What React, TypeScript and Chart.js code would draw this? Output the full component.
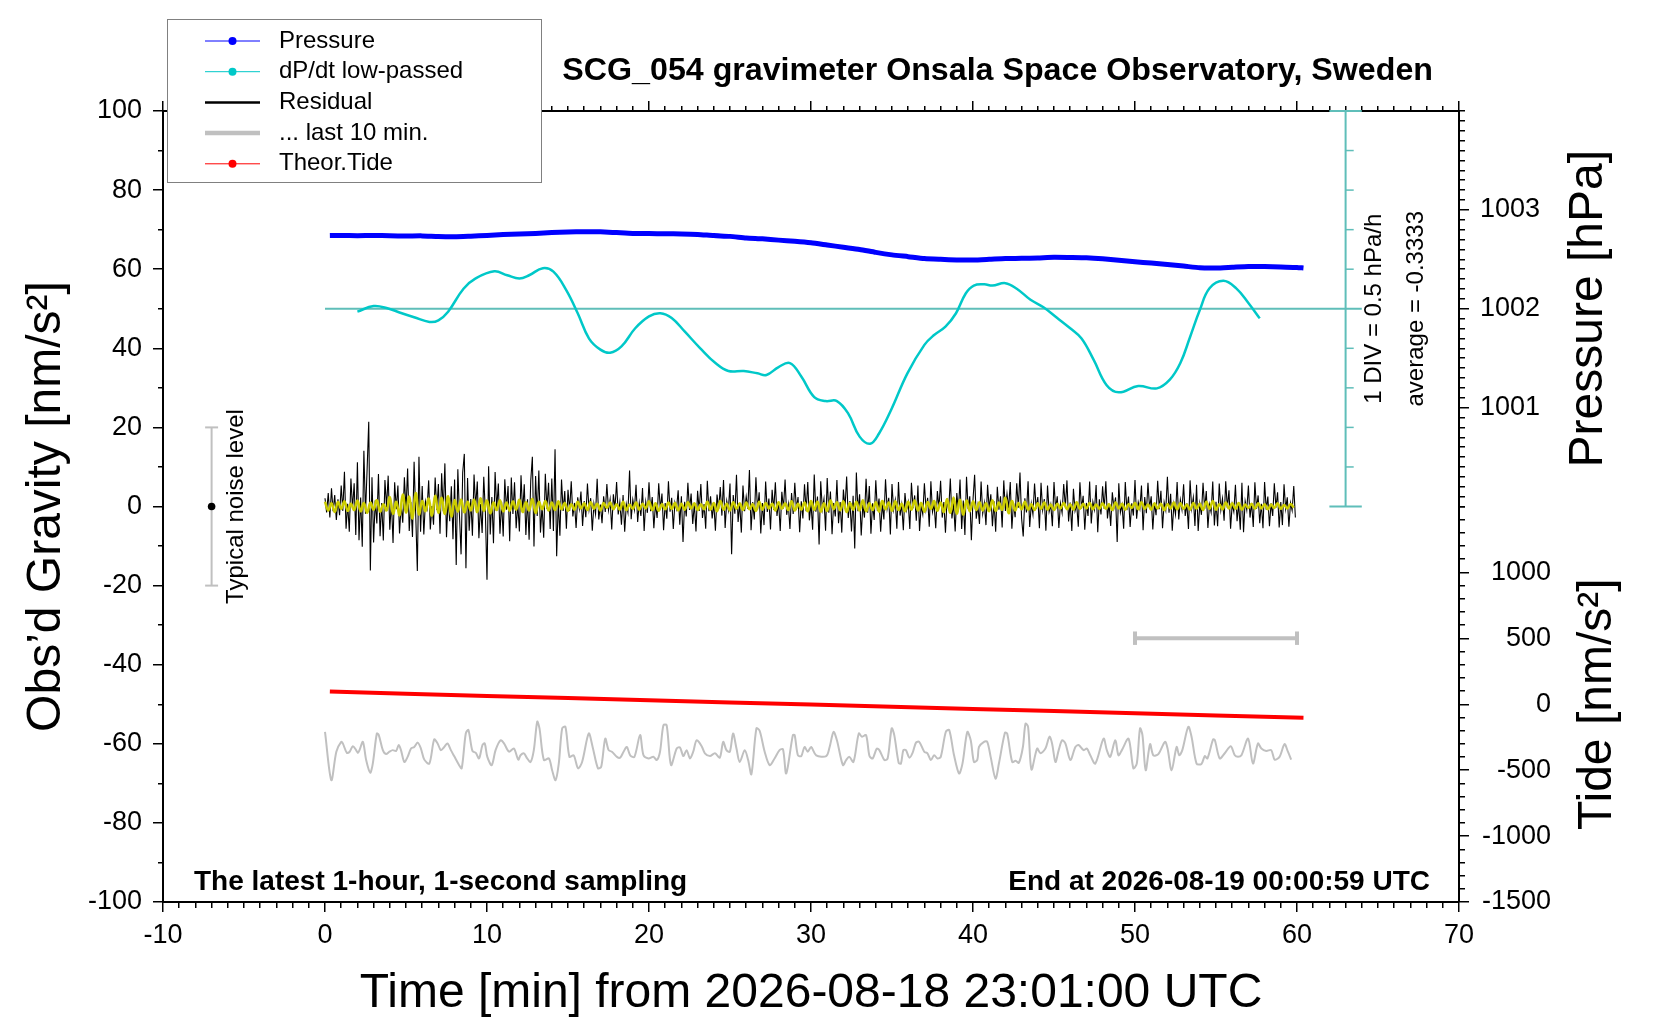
import React, { useEffect, useRef } from 'react';
import { Chart, registerables } from 'chart.js';

Chart.register(...registerables);

const FONT = '"Liberation Sans", Arial, Helvetica, sans-serif';
Chart.defaults.font.family = FONT;
Chart.defaults.color = '#000';

const TITLE = 'SCG_054 gravimeter Onsala Space Observatory, Sweden';
const NOTE_LEFT = 'The latest 1-hour, 1-second sampling';
const NOTE_RIGHT = 'End at 2026-08-19 00:00:59 UTC';
const X_TITLE = 'Time [min] from 2026-08-18 23:01:00 UTC';
const GRAV_TITLE = 'Obs\u2019d Gravity [nm/s\u00b2]';
const PRESSURE_TITLE = 'Pressure [hPa]';
const TIDE_TITLE = 'Tide [nm/s\u00b2]';

// tick labels (also the long / major ticks)
const xTickLabels = [-10, 0, 10, 20, 30, 40, 50, 60, 70];
const gravTickLabels = [-100, -80, -60, -40, -20, 0, 20, 40, 60, 80, 100];
const pressureTickLabels = [1001, 1002, 1003];
const tideTickLabels = [-1500, -1000, -500, 0, 500, 1000];

// dP/dt scale: 1 DIV = 0.5 hPa/h, centred on the average
const DP_AVERAGE = -0.3333;
const DP_DIV = 0.5;
const DP_SCALE_AT = 63; // minutes

// typical noise level bar and last-10-min window marker
const NOISE_AT = -7;
const NOISE_LEVEL = 20;
const WINDOW_FROM = 50;
const WINDOW_TO = 60;
const WINDOW_LEVEL = -33.3;

// residual gravity, 1 value every 0.1 min (6 s) [nm/s2]
const RES_STEP = 0.1;
const residual = [
  2.1, -1.5, 3.4, -2.8, 4.6, -1.2, 2.9, -3.4, 1.8, -2.2,
  5.3, -1.1, 8.8, -5.6, 0.7, -6.4, 7.1, -0.5, 5.9, -7.2,
  11.2, -8.5, 2.3, -10.2, 14.1, -1.8, 9.5, 21.4, -16.2, 7.4,
  -9.1, 1.6, -4.3, 8.2, -7.5, 0.9, -8.6, 6.7, -0.2, 7.8,
  -5.9, 1.4, -9.2, 6.1, -0.7, 5.3, -6.8, 0.5, -4.1, 7.4,
  -0.8, 9.6, -6.2, 1.1, -7.7, 11.3, -2.1, -16.3, 12.6, -6.4,
  5.2, -7.1, 1.3, -0.5, 6.6, -5.8, 0.1, -4.6, 7.3, -0.9,
  5.7, -6.9, 8.4, -1.2, 10.9, -7.8, 2.2, -3.7, 5.1, -8.3,
  6.8, -14.8, 9.4, -2.3, -12.1, 8.6, 13.3, -15.6, 7.2, -6.1,
  1.9, -7.4, 8.1, -0.2, 6.3, -8.0, 0.6, -6.7, 7.5, -1.4,
  -18.5, 10.2, -7.1, 2.4, -9.3, 8.7, -0.6, 5.8, -6.9, 1.2,
  -7.6, 6.9, -0.8, 5.2, -8.8, 7.3, -1.9, 6.1, -5.5, 0.7,
  -6.3, 7.9, -1.5, 5.6, -7.2, 1.8, -8.4, 6.5, 12.6, -10.1,
  7.7, -2.4, 9.1, -6.6, 0.2, -7.9, 8.3, -0.6, 6.0, -5.7,
  7.1, -6.2, 14.5, -12.6, 1.3, -7.4, 6.8, -1.1, 3.9, -5.6,
  4.2, -1.1, 6.4, -2.5, 0.9, -5.4, 2.3, -0.6, 3.8, -4.9,
  1.4, -2.7, 5.8, -0.8, 2.1, -6.1, 0.7, -1.9, 7.0, -3.3,
  0.5, -4.2, 2.6, -1.4, 5.7, -0.9, 1.8, -5.8, 3.1, -0.4,
  6.2, -2.0, 1.1, -4.6, 2.9, -6.4, 0.6, -1.5, 9.1, -3.2,
  1.7, -0.8, 5.5, -3.9, 0.9, -2.4, 4.7, -6.2, 1.2, -1.6,
  6.1, -1.2, 2.4, -5.5, 0.8, -2.9, 5.9, -0.7, 3.3, -6.0,
  0.9, -3.1, 6.4, -1.3, 2.2, -5.7, 1.0, -0.6, 4.1, -4.6,
  2.6, -9.0, 1.2, -2.5, 6.0, -0.9, 3.3, -4.4, 0.7, -6.3,
  4.0, -1.1, 5.7, -2.9, 0.6, -5.6, 6.5, -1.2, 2.6, -3.0,
  0.8, -6.1, 3.0, -0.7, 4.9, -2.3, 6.7, -5.4, 1.4, -0.9,
  5.8, -12.1, 2.9, -1.8, 8.0, -3.9, 0.8, -6.6, 5.3, -1.2,
  2.5, -0.6, 9.2, -6.0, 1.1, -3.3, 7.4, -0.8, 3.6, -6.8,
  0.9, -4.7, 6.3, -1.4, 2.0, -5.8, 4.2, -0.9, 6.1, -2.4,
  1.2, -6.2, 3.7, -0.5, 6.8, -2.1, 0.6, -5.7, 3.4, -1.9,
  6.0, -0.8, 2.4, -6.5, 1.3, -3.0, 5.6, -1.2, 6.2, -3.5,
  0.8, -5.9, 8.1, -1.3, 2.5, -9.6, 6.4, -0.7, 1.9, -6.1,
  7.2, -1.6, 3.8, -7.0, 0.9, -2.5, 6.7, -4.2, 1.1, -6.6,
  4.3, -0.5, 7.6, -2.9, 1.4, -6.3, 2.7, -10.6, 8.6, -1.2,
  3.1, -7.3, 0.5, -2.8, 7.0, -1.6, 5.2, -6.9, 0.8, -3.4,
  6.6, -1.1, 2.0, -6.4, 0.7, -3.3, 6.9, -0.5, 2.2, -7.1,
  5.7, -0.8, 1.6, -5.6, 6.2, -2.3, 0.5, -6.0, 3.4, -0.9,
  1.1, -5.7, 6.0, -0.4, 2.8, -3.6, 5.3, -6.2, 0.2, -2.0,
  5.9, -0.7, 2.2, -5.1, 6.4, -1.4, 0.6, -5.5, 3.9, -0.3,
  6.5, -2.8, 1.1, -6.6, 2.0, -0.9, 7.1, -3.0, 0.8, -6.3,
  3.4, -1.2, 6.8, -5.7, 1.5, -7.2, 7.5, -0.6, 2.6, -8.5,
  1.7, 8.0, -3.1, 0.2, -4.4, 6.3, -1.8, 0.9, -4.7, 5.5,
  -0.6, 3.1, -5.0, 1.3, -6.4, 5.0, -0.8, 2.6, -5.3, 6.6,
  -1.1, 3.2, -0.5, 6.2, -5.6, 1.0, -2.7, 5.9, -0.3, 8.6,
  -3.0, -7.6, 2.1, -1.5, 6.4, -5.2, 0.7, -2.0, 5.8, -0.6,
  2.4, -5.5, 6.0, -0.9, 1.9, -6.1, 5.3, -1.3, 0.5, -5.0,
  6.2, -0.7, 2.6, -5.4, 0.8, -1.6, 5.7, -0.2, 6.6, -3.8,
  1.0, -6.2, 4.5, -1.1, 0.6, -5.1, 6.1, -0.5, 2.7, -5.9,
  0.9, -2.4, 6.3, -4.3, 1.2, -0.8, 5.4, -6.5, 1.8, -2.0,
  5.1, -0.6, 6.4, -3.0, 0.7, -4.9, 3.6, -0.3, 2.3, -9.0,
  5.9, -1.5, 0.4, -5.6, 6.2, -0.9, 2.5, -5.2, 0.8, -2.3,
  6.7, -3.1, 1.1, -0.6, 5.3, -6.0, 2.4, -1.7, 6.0, -0.4,
  2.6, -5.8, 0.9, -2.2, 6.5, -0.7, 4.0, -5.5, 1.1, -0.9,
  7.5, -1.6, 3.2, -6.1, 0.6, -2.0, 6.2, -3.3, 1.7, -0.8,
  5.6, -2.4, 0.8, -5.7, 6.6, -0.5, 2.3, -4.9, 5.5, -6.2,
  0.7, -2.1, 6.0, -0.6, 3.9, -5.4, 0.5, -1.5, 6.3, -4.8,
  1.2, -5.0, 5.8, -0.9, 2.0, -3.6, 6.4, -0.4, 4.1, -5.6,
  0.6, -1.3, 5.5, -3.7, 0.7, -5.9, 6.0, -6.5, 1.4, -0.9,
  5.3, -2.8, 0.9, -5.2, 6.1, -0.6, 2.8, -4.2, 0.7, -5.5,
  6.2, -0.8, 2.5, -5.0, 0.8, -2.4, 5.9, -0.3, 3.6, -5.3,
  1.1, -4.7, 5.6, -0.6, 2.3, -5.1, 0.9, -1.0, 5.2, -2.8,
];

// low-passed residual (yellow), 1 value every 0.2 min
const SMOOTH_STEP = 0.2;
const smoothed = [
  1.2, -1.0, 0.8, -1.4, 1.1, -0.6, 1.3, -1.1, 0.7, -0.9,
  1.5, -1.2, 0.9, -1.6, 1.0, -0.8, 1.6, -1.3, 0.6, -1.0,
  2.4, -1.8, 1.2, -2.2, 3.0, -1.5, 2.5, -3.0, 3.4, -2.0,
  1.4, -1.2, 2.0, -2.3, 2.7, -1.6, 2.2, -1.9, 2.6, -2.5,
  1.6, -1.3, 1.8, -1.5, 1.2, -1.0, 1.7, -1.4, 2.1, -1.1,
  1.5, -1.7, 1.0, -0.9, 1.6, -1.2, 1.0, -1.1, 1.3, -0.8,
  1.7, -1.4, 1.1, -1.0, 1.9, -1.6, 1.2, -0.7, 1.4, -1.0,
  1.0, -0.9, 1.3, -0.7, 0.9, -1.1, 0.6, -0.8, 1.2, -0.5,
  0.8, -0.9, 1.1, -0.6, 0.7, -1.0, 0.9, -0.4, 1.0, -0.7,
  0.6, -0.8, 1.2, -0.9, 0.5, -0.6, 1.0, -0.8, 0.7, -0.5,
  1.3, -0.9, 0.8, -1.1, 0.6, -0.7, 1.0, -0.6, 0.9, -1.0,
  0.7, -0.8, 1.1, -0.5, 0.8, -0.9, 0.6, -0.7, 1.2, -0.8,
  0.9, -1.2, 1.4, -0.8, 0.7, -1.0, 1.1, -0.6, 0.8, -0.9,
  1.0, -0.7, 0.6, -1.1, 1.2, -0.8, 0.9, -0.5, 0.7, -1.0,
  1.1, -0.6, 0.8, -0.9, 1.3, -1.0, 0.7, -0.8, 1.0, -1.2,
  1.4, -0.9, 1.2, -1.3, 0.8, -1.1, 1.5, -0.7, 1.1, -1.0,
  1.3, -1.4, 0.9, -0.8, 1.2, -1.0, 1.6, -1.2, 0.8, -0.9,
  1.1, -1.3, 1.4, -0.7, 1.0, -1.1, 1.3, -0.9, 0.7, -1.2,
  1.2, -0.8, 1.5, -1.0, 0.9, -1.3, 1.1, -0.6, 1.4, -1.1,
  1.0, -1.4, 1.9, -1.6, 2.3, -1.8, 1.7, -2.1, 1.5, -1.2,
  1.3, -0.9, 1.1, -1.0, 0.8, -1.2, 1.6, -1.1, 1.0, -0.8,
  2.2, -1.7, 1.4, -1.0, 0.9, -0.7, 1.2, -0.8, 0.6, -0.9,
  0.8, -0.6, 1.0, -0.8, 0.5, -0.9, 0.7, -0.5, 0.9, -0.7,
  0.6, -0.8, 1.1, -0.6, 0.7, -0.5, 0.9, -0.7, 0.5, -0.6,
  0.8, -0.6, 0.6, -0.9, 1.0, -0.5, 0.7, -0.8, 0.6, -0.4,
  0.9, -0.7, 1.1, -0.6, 0.5, -0.8, 0.8, -0.5, 0.7, -0.9,
  0.6, -0.5, 1.0, -0.7, 0.8, -0.6, 0.5, -0.8, 0.9, -0.6,
  0.7, -0.9, 1.2, -0.6, 1.4, -0.8, 0.6, -0.7, 1.0, -0.5,
  0.8, -0.6, 0.9, -0.8, 0.5, -0.4, 0.7, -0.6, 0.8, -0.5,
  0.6, -0.7, 0.5, -0.4, 0.8, -0.6, 0.4, -0.5, 0.6, -0.3,
];

// "... last 10 min." residual stretched over the hour, [min, nm/s2]
const lastTen = [
  [0.0, -57.0], [0.39, -69.2], [0.7, -62.0], [1.0, -59.5], [1.1, -59.9], [1.35, -62.3], [1.52, -62.0],
  [1.72, -60.6], [1.92, -61.6], [2.03, -62.3], [2.13, -61.6], [2.34, -59.5], [2.54, -64.1], [2.79, -67.3],
  [2.95, -65.0], [3.2, -57.4], [3.32, -57.8], [3.57, -61.6], [3.77, -62.6], [3.98, -62.0], [4.18, -61.6],
  [4.39, -61.8], [4.55, -60.3], [4.69, -61.6], [4.9, -64.6], [5.1, -63.3], [5.31, -61.2], [5.51, -60.8],
  [5.72, -59.7], [5.92, -61.2], [6.13, -64.0], [6.44, -65.0], [6.74, -58.9], [6.95, -59.9], [7.15, -61.6],
  [7.36, -60.8], [7.56, -59.9], [7.77, -61.6], [7.97, -63.1], [8.28, -65.4], [8.44, -66.2], [8.69, -57.4],
  [8.85, -56.5], [9.1, -61.8], [9.31, -62.3], [9.51, -63.7], [9.72, -60.3], [9.86, -59.9], [10.02, -63.3],
  [10.29, -65.4], [10.53, -61.6], [10.84, -59.1], [11.05, -59.9], [11.36, -62.0], [11.66, -61.2],
  [11.93, -64.0], [12.07, -62.9], [12.28, -62.4], [12.48, -63.7], [12.69, -64.6], [12.89, -61.6],
  [13.1, -54.4], [13.24, -56.1], [13.51, -64.1], [13.82, -63.7], [14.02, -66.7], [14.23, -69.2],
  [14.43, -65.0], [14.64, -56.1], [14.84, -55.7], [15.09, -63.3], [15.35, -62.9], [15.62, -66.2],
  [15.87, -64.6], [16.28, -57.4], [16.52, -60.8], [16.85, -66.2], [17.05, -65.8], [17.3, -58.7],
  [17.51, -61.6], [17.71, -62.0], [18.02, -63.3], [18.22, -63.5], [18.43, -62.0], [18.63, -60.8],
  [18.84, -62.9], [19.1, -63.3], [19.45, -57.8], [19.66, -62.9], [19.97, -63.7], [20.27, -63.3],
  [20.48, -64.1], [20.68, -62.0], [20.89, -55.3], [21.09, -55.3], [21.36, -65.4], [21.71, -61.2],
  [21.91, -60.9], [22.12, -63.1], [22.32, -61.6], [22.53, -63.7], [22.73, -62.0], [22.94, -59.1],
  [23.25, -60.6], [23.45, -62.4], [23.76, -63.1], [24.07, -62.4], [24.37, -63.5], [24.58, -59.5],
  [24.78, -61.6], [24.99, -62.0], [25.19, -57.4], [25.4, -61.2], [25.6, -64.6], [25.91, -61.6],
  [26.12, -64.1], [26.32, -67.7], [26.63, -56.1], [26.83, -56.7], [27.14, -62.0], [27.45, -65.4],
  [27.75, -63.7], [28.06, -61.6], [28.27, -61.4], [28.47, -67.5], [28.88, -57.8], [28.99, -57.8],
  [29.19, -62.9], [29.4, -63.1], [29.6, -60.8], [29.8, -62.0], [30.01, -60.8], [30.32, -62.9],
  [30.94, -63.1], [31.15, -60.8], [31.39, -57.0], [31.6, -59.1], [31.97, -65.4], [32.17, -64.1],
  [32.37, -63.3], [32.62, -64.6], [32.95, -57.4], [33.15, -58.2], [33.4, -57.8], [33.61, -63.1],
  [33.81, -63.7], [34.06, -61.2], [34.22, -61.6], [34.53, -64.1], [34.73, -63.7], [34.98, -56.1],
  [35.14, -57.8], [35.41, -64.8], [35.55, -65.0], [35.7, -61.6], [35.86, -61.6], [36.07, -63.5],
  [36.27, -62.3], [36.48, -59.7], [36.68, -59.5], [36.99, -62.0], [37.19, -62.4], [37.4, -64.1],
  [37.6, -62.9], [37.81, -63.7], [38.01, -63.3], [38.32, -57.0], [38.53, -56.5], [38.83, -62.9],
  [39.14, -67.5], [39.35, -65.0], [39.65, -57.0], [39.86, -59.1], [40.06, -64.6], [40.27, -64.0],
  [40.37, -60.8], [40.68, -59.5], [40.88, -59.5], [41.09, -63.3], [41.39, -68.8], [41.6, -65.0],
  [41.97, -57.2], [42.11, -57.4], [42.42, -64.6], [42.63, -64.3], [42.83, -64.8], [43.08, -60.8],
  [43.24, -54.9], [43.4, -55.7], [43.61, -66.5], [43.96, -61.2], [44.16, -62.4], [44.47, -61.2],
  [44.72, -58.2], [44.88, -59.9], [45.09, -64.6], [45.29, -61.6], [45.5, -59.1], [45.7, -59.9],
  [46.01, -64.1], [46.32, -60.8], [46.52, -60.3], [46.83, -61.6], [47.03, -61.2], [47.24, -62.9],
  [47.55, -65.0], [48.06, -58.7], [48.26, -61.6], [48.47, -63.3], [48.78, -59.1], [48.98, -62.9],
  [49.19, -61.6], [49.6, -58.7], [49.9, -66.2], [50.11, -65.0], [50.31, -56.1], [50.46, -57.8],
  [50.66, -66.7], [50.93, -60.1], [51.13, -62.9], [51.44, -62.6], [51.85, -59.5], [52.01, -61.2],
  [52.26, -66.7], [52.57, -60.8], [52.73, -62.9], [52.92, -61.6], [53.29, -55.7], [53.49, -58.2],
  [53.8, -65.0], [54.1, -65.1], [54.31, -63.1], [54.47, -63.7], [54.82, -58.9], [54.93, -59.1],
  [55.23, -63.7], [55.54, -62.4], [55.91, -60.6], [56.16, -62.9], [56.36, -63.3], [56.57, -62.9],
  [56.98, -58.7], [57.28, -65.0], [57.59, -59.9], [57.8, -61.2], [58.1, -61.8], [58.41, -61.6],
  [58.62, -64.0], [58.92, -63.3], [59.23, -60.1], [59.44, -62.0], [59.64, -64.0],
];

// air pressure [min, hPa]
const pressure = [
  [0.3, 1002.740], [1, 1002.742], [2, 1002.739], [3, 1002.741], [4, 1002.738], [5, 1002.736],
  [6, 1002.737], [7, 1002.730], [8, 1002.728], [9, 1002.734], [10, 1002.741], [11, 1002.750],
  [12, 1002.756], [13, 1002.762], [14, 1002.771], [15, 1002.777], [16, 1002.779], [17, 1002.778],
  [18, 1002.770], [19, 1002.762], [20, 1002.760], [21, 1002.758], [22, 1002.757], [23, 1002.752],
  [24, 1002.740], [25, 1002.732], [26, 1002.716], [27, 1002.707], [28, 1002.694], [29, 1002.683],
  [30, 1002.668], [31, 1002.645], [32, 1002.622], [33, 1002.600], [34, 1002.570], [35, 1002.545],
  [36, 1002.527], [37, 1002.508], [38, 1002.500], [39, 1002.494], [40, 1002.493], [41, 1002.500],
  [42, 1002.508], [43, 1002.510], [44, 1002.514], [45, 1002.520], [46, 1002.518], [47, 1002.515],
  [48, 1002.505], [49, 1002.490], [50, 1002.475], [51, 1002.462], [52, 1002.448], [53, 1002.432],
  [54, 1002.414], [55, 1002.412], [56, 1002.420], [57, 1002.428], [58, 1002.427], [59, 1002.422],
  [60, 1002.418], [60.4, 1002.412],
];

// dP/dt low-passed [min, hPa/h]
const dpdt = [
  [2.0, -0.37], [3.0, -0.30], [3.9, -0.33], [4.6, -0.38], [5.5, -0.44], [6.45, -0.50], [7.0, -0.48],
  [7.6, -0.37], [8.55, -0.08], [9.3, 0.05], [10.45, 0.14], [11.25, 0.09], [12.0, 0.05], [12.6, 0.09],
  [13.45, 0.18], [14.1, 0.135], [14.9, -0.10], [15.6, -0.39], [16.3, -0.71], [17.0, -0.85], [17.6, -0.89],
  [18.3, -0.81], [19.15, -0.58], [20.0, -0.43], [20.7, -0.39], [21.4, -0.45], [22.2, -0.62], [23.15, -0.83],
  [24.1, -1.02], [24.9, -1.12], [25.85, -1.12], [26.7, -1.15], [27.25, -1.17], [28.0, -1.07], [28.7, -1.02],
  [29.4, -1.19], [30.2, -1.45], [30.9, -1.50], [31.6, -1.50], [32.3, -1.66], [33.0, -1.95], [33.65, -2.04],
  [34.2, -1.91], [34.95, -1.61], [35.95, -1.15], [37.0, -0.79], [37.6, -0.665], [38.3, -0.56], [38.95, -0.39],
  [39.55, -0.14], [40.05, -0.04], [40.7, -0.025], [41.2, -0.04], [42.0, -0.01], [42.7, -0.08], [43.55, -0.22],
  [44.35, -0.315], [45.2, -0.45], [46.0, -0.58], [46.7, -0.71], [47.45, -0.98], [48.25, -1.30], [49.0, -1.39],
  [50.2, -1.31], [51.35, -1.34], [52.15, -1.23], [52.8, -1.02], [53.4, -0.69], [54.0, -0.35], [54.6, -0.075],
  [55.45, 0.02], [56.25, -0.075], [57.0, -0.26], [57.7, -0.455],
];

// theoretical tide [min, nm/s2]
const tide = [
  [0.3, 96], [5, 80], [10, 63.5], [15, 47], [20, 30.5], [25, 14], [30, -2.5],
  [35, -19], [40, -35.5], [45, -52], [50, -68.5], [55, -85], [60.4, -102],
];

const BLUE = '#0000ff';
const CYAN = 'rgb(0,200,200)';
const TEAL = 'rgb(95,190,185)';
const RED = '#ff0000';
const GRAY = '#c0c0c0';
const YELLOW = '#cccc00';

const MAJOR_TICK = 10;
const MINOR_TICK = 5;

const near = (list: number[], v: number) => list.some((l) => Math.abs(l - v) < 1e-6);
const label = (list: number[]) => (v: any) => (near(list, Number(v)) ? String(Math.round(Number(v))) : '');
// short ticks for the minor marks; dash starts at the outer end for left/top axes
const tickDash = (major: number[], outerFirst: boolean) => (c: any) => {
  const v = c.tick ? c.tick.value : NaN;
  if (near(major, v)) return [];
  return outerFirst ? [0, MAJOR_TICK - MINOR_TICK, MINOR_TICK, 60] : [MINOR_TICK, 60];
};
const axisGrid = (major: number[], outerFirst: boolean) => ({
  drawOnChartArea: false,
  drawTicks: true,
  tickLength: MAJOR_TICK,
  tickColor: '#000',
  tickWidth: 1.5,
  lineWidth: 1.5,
  tickBorderDash: tickDash(major, outerFirst),
});
const border = { display: true, color: '#000', width: 2 };
const tickFont = { size: 27 };

const legendRows = [
  { text: 'Pressure', color: BLUE, width: 1, dot: true },
  { text: 'dP/dt low-passed', color: CYAN, width: 1, dot: true },
  { text: 'Residual', color: '#000', width: 2.5, dot: false },
  { text: '... last 10 min.', color: GRAY, width: 4.5, dot: false },
  { text: 'Theor.Tide', color: RED, width: 1, dot: true },
];

const seg = (ctx: CanvasRenderingContext2D, x1: number, y1: number, x2: number, y2: number) => {
  ctx.beginPath();
  ctx.moveTo(x1, y1);
  ctx.lineTo(x2, y2);
  ctx.stroke();
};

const vText = (ctx: CanvasRenderingContext2D, text: string, x: number, y: number, font: string) => {
  ctx.save();
  ctx.translate(x, y);
  ctx.rotate(-Math.PI / 2);
  ctx.font = font;
  ctx.textAlign = 'center';
  ctx.textBaseline = 'middle';
  ctx.fillStyle = '#000';
  ctx.fillText(text, 0, 0);
  ctx.restore();
};

const decorations = {
  id: 'decorations',
  beforeDatasetsDraw(chart: any) {
    const { ctx, scales } = chart;
    const x = scales.x;
    const dp = scales.yDp;
    const px = (v: number) => x.getPixelForValue(v);
    ctx.save();
    ctx.strokeStyle = TEAL;
    ctx.lineWidth = 2;
    const yAvg = dp.getPixelForValue(DP_AVERAGE);
    seg(ctx, px(0), yAvg, px(DP_SCALE_AT + 1), yAvg);
    const top = dp.getPixelForValue(DP_AVERAGE + 5 * DP_DIV);
    const bot = dp.getPixelForValue(DP_AVERAGE - 5 * DP_DIV);
    seg(ctx, px(DP_SCALE_AT), top, px(DP_SCALE_AT), bot);
    seg(ctx, px(DP_SCALE_AT - 1), top, px(DP_SCALE_AT + 1), top);
    seg(ctx, px(DP_SCALE_AT - 1), bot, px(DP_SCALE_AT + 1), bot);
    ctx.lineWidth = 1.5;
    for (let k = -4; k <= 4; k++) {
      if (k === 0) continue;
      const yy = dp.getPixelForValue(DP_AVERAGE + k * DP_DIV);
      seg(ctx, px(DP_SCALE_AT), yy, px(DP_SCALE_AT + 0.5), yy);
    }
    ctx.restore();
  },
  afterDatasetsDraw(chart: any) {
    const { ctx, scales } = chart;
    const x = scales.x;
    const g = scales.y;
    const px = (v: number) => x.getPixelForValue(v);
    ctx.save();
    // typical noise level
    ctx.strokeStyle = GRAY;
    ctx.lineWidth = 2;
    const nx = px(NOISE_AT);
    const nTop = g.getPixelForValue(NOISE_LEVEL);
    const nBot = g.getPixelForValue(-NOISE_LEVEL);
    seg(ctx, nx, nTop, nx, nBot);
    seg(ctx, px(NOISE_AT - 0.4), nTop, px(NOISE_AT + 0.4), nTop);
    seg(ctx, px(NOISE_AT - 0.4), nBot, px(NOISE_AT + 0.4), nBot);
    ctx.fillStyle = '#000';
    ctx.beginPath();
    ctx.arc(nx, g.getPixelForValue(0), 3.8, 0, Math.PI * 2);
    ctx.fill();
    // last 10 min window
    ctx.lineWidth = 4;
    const wy = g.getPixelForValue(WINDOW_LEVEL);
    seg(ctx, px(WINDOW_FROM), wy, px(WINDOW_TO), wy);
    const capT = g.getPixelForValue(WINDOW_LEVEL + 1.7);
    const capB = g.getPixelForValue(WINDOW_LEVEL - 1.7);
    seg(ctx, px(WINDOW_FROM), capT, px(WINDOW_FROM), capB);
    seg(ctx, px(WINDOW_TO), capT, px(WINDOW_TO), capB);
    ctx.restore();
  },
  afterDraw(chart: any) {
    const { ctx, chartArea, scales } = chart;
    const x = scales.x;
    const g = scales.y;
    ctx.save();
    ctx.fillStyle = '#000';
    ctx.textBaseline = 'middle';
    ctx.font = `bold 32.2px ${FONT}`;
    ctx.textAlign = 'right';
    ctx.fillText(TITLE, chartArea.right - 26, chartArea.top - 40);
    ctx.font = `bold 28px ${FONT}`;
    ctx.fillText(NOTE_RIGHT, chartArea.right - 29, chartArea.bottom - 20);
    ctx.textAlign = 'left';
    ctx.fillText(NOTE_LEFT, chartArea.left + 31, chartArea.bottom - 20);
    ctx.restore();

    vText(ctx, 'Typical noise level', x.getPixelForValue(NOISE_AT) + 25, g.getPixelForValue(0), `24px ${FONT}`);
    const sx = x.getPixelForValue(DP_SCALE_AT);
    const sy = scales.yDp.getPixelForValue(DP_AVERAGE);
    vText(ctx, `1 DIV = ${DP_DIV} hPa/h`, sx + 29, sy, `24px ${FONT}`);
    vText(ctx, `average = ${DP_AVERAGE.toFixed(4)}`, sx + 71, sy, `24px ${FONT}`);

    const yP = scales.yP;
    const yT = scales.yT;
    vText(ctx, PRESSURE_TITLE, chartArea.right + 130, (yP.top + yP.bottom) / 2, `48px ${FONT}`);
    vText(ctx, TIDE_TITLE, chartArea.right + 139, (yT.top + yT.bottom) / 2, `48px ${FONT}`);

    // legend box
    ctx.save();
    ctx.fillStyle = '#fff';
    ctx.fillRect(167, 19, 374, 163);
    ctx.strokeStyle = '#808080';
    ctx.lineWidth = 1;
    ctx.strokeRect(167.5, 19.5, 374, 163);
    legendRows.forEach((row, i) => {
      const y = 41 + i * 30.7;
      ctx.strokeStyle = row.color;
      ctx.lineWidth = row.width;
      seg(ctx, 205, y, 260, y);
      if (row.dot) {
        ctx.fillStyle = row.color;
        ctx.beginPath();
        ctx.arc(232.5, y, 4, 0, Math.PI * 2);
        ctx.fill();
      }
      ctx.fillStyle = '#000';
      ctx.font = `24px ${FONT}`;
      ctx.textAlign = 'left';
      ctx.textBaseline = 'middle';
      ctx.fillText(row.text, 279, y);
    });
    ctx.restore();
  },
};

const lineStyle = { pointRadius: 0, fill: false };

export default function App() {
  const canvasRef = useRef<HTMLCanvasElement>(null);

  useEffect(() => {
    if (!canvasRef.current) return;
    const chart = new Chart(canvasRef.current, {
      type: 'line',
      data: {
        datasets: [
          {
            label: 'low-passed residual',
            data: smoothed.map((v, i) => ({ x: i * SMOOTH_STEP, y: v })),
            borderColor: YELLOW,
            borderWidth: 2.5,
            tension: 0.4,
            ...lineStyle,
          },
          {
            label: 'Residual',
            data: residual.map((v, i) => ({ x: i * RES_STEP, y: v })),
            borderColor: '#000',
            borderWidth: 1.1,
            tension: 0,
            ...lineStyle,
          },
          {
            label: '... last 10 min.',
            data: lastTen.map(([t, v]) => ({ x: t, y: v })),
            borderColor: GRAY,
            borderWidth: 2,
            tension: 0.3,
            ...lineStyle,
          },
          {
            label: 'Theor.Tide',
            data: tide.map(([t, v]) => ({ x: t, y: v })),
            yAxisID: 'yT',
            borderColor: RED,
            borderWidth: 4,
            tension: 0,
            ...lineStyle,
          },
          {
            label: 'dP/dt low-passed',
            data: dpdt.map(([t, v]) => ({ x: t, y: v })),
            yAxisID: 'yDp',
            borderColor: CYAN,
            borderWidth: 2.5,
            tension: 0.4,
            ...lineStyle,
          },
          {
            label: 'Pressure',
            data: pressure.map(([t, v]) => ({ x: t, y: v })),
            yAxisID: 'yP',
            borderColor: BLUE,
            borderWidth: 5,
            tension: 0.2,
            ...lineStyle,
          },
        ],
      },
      options: {
        animation: false,
        responsive: false,
        maintainAspectRatio: false,
        events: [],
        layout: { padding: { left: 0, top: 0, bottom: 0, right: 109 } },
        plugins: {
          legend: { display: false },
          title: { display: false },
          tooltip: { enabled: false },
        },
        scales: {
          x: {
            type: 'linear',
            position: 'bottom',
            min: -10,
            max: 70,
            afterFit: (s: any) => { s.height = 118; },
            border,
            grid: axisGrid(xTickLabels, false),
            ticks: { stepSize: 1, autoSkip: false, maxRotation: 0, padding: 7, font: tickFont, callback: label(xTickLabels) },
            title: { display: true, text: X_TITLE, font: { size: 48, lineHeight: 1.1 }, padding: { top: 0, bottom: 0 } },
          },
          xTop: {
            type: 'linear',
            position: 'top',
            min: -10,
            max: 70,
            afterFit: (s: any) => { s.height = 111; },
            border,
            grid: axisGrid(xTickLabels, true),
            ticks: { stepSize: 1, autoSkip: false, maxRotation: 0, font: tickFont, callback: () => '' },
          },
          y: {
            type: 'linear',
            position: 'left',
            min: -100,
            max: 100,
            afterFit: (s: any) => { s.width = 163; },
            border,
            grid: axisGrid(gravTickLabels, true),
            ticks: { stepSize: 10, autoSkip: false, padding: 11, font: tickFont, callback: label(gravTickLabels) },
            title: { display: true, text: GRAV_TITLE, font: { size: 48, lineHeight: 1.1 }, padding: { top: 20, bottom: 0 } },
          },
          yP: {
            type: 'linear',
            position: 'right',
            stack: 'right',
            stackWeight: 1,
            min: 1000,
            max: 1004,
            afterFit: (s: any) => { s.width = 92; },
            border,
            grid: axisGrid(pressureTickLabels, false),
            ticks: { stepSize: 0.1, autoSkip: false, padding: 11, font: tickFont, callback: label(pressureTickLabels) },
          },
          yT: {
            type: 'linear',
            position: 'right',
            stack: 'right',
            stackWeight: 1,
            min: -1500,
            max: 1500,
            afterFit: (s: any) => { s.width = 92; },
            border,
            grid: axisGrid(tideTickLabels, false),
            ticks: { stepSize: 100, autoSkip: false, padding: 11, crossAlign: 'far', font: tickFont, callback: label(tideTickLabels) },
          },
          yDp: {
            type: 'linear',
            position: 'left',
            display: false,
            min: DP_AVERAGE - 15 * DP_DIV,
            max: DP_AVERAGE + 5 * DP_DIV,
          },
        },
      } as any,
      plugins: [decorations],
    });
    return () => chart.destroy();
  }, []);

  return (
    <div style={{ position: 'absolute', left: 0, top: 0, width: 1660, height: 1020, background: '#fff' }}>
      <canvas ref={canvasRef} width={1660} height={1020} />
    </div>
  );
}
